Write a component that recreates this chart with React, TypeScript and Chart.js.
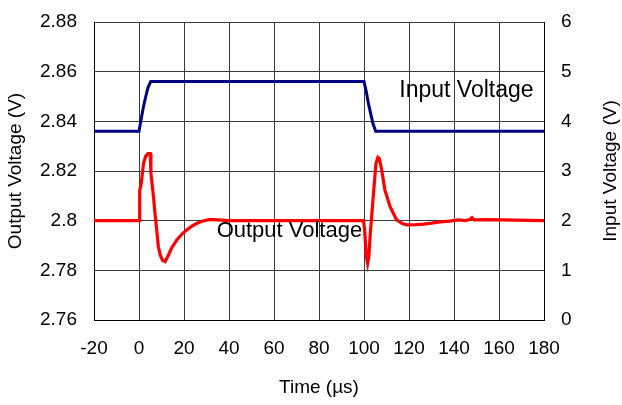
import React, { useEffect, useRef } from "react";
import { Chart, registerables } from "chart.js";

Chart.register(...registerables);

const xTicks = [-20, 0, 20, 40, 60, 80, 100, 120, 140, 160, 180];
const yLeftTicks = [2.76, 2.78, 2.8, 2.82, 2.84, 2.86, 2.88];
const yRightTicks = [0, 1, 2, 3, 4, 5, 6];

const inputTime = [-20, 0, 1, 2, 3, 4, 5.2, 100, 101, 102, 103, 104, 105.2, 180];
const inputVolt = [3.8, 3.8, 4.05, 4.3, 4.5, 4.68, 4.8, 4.8, 4.6, 4.35, 4.15, 3.95, 3.8, 3.8];

const outputTime = [
  -20, 0, 0.3, 1, 2, 3, 4, 5, 5.3, 6.4, 7.1, 7.9, 8.6, 9.5, 10.5, 11.6, 13, 14.5, 16.8, 19, 21.2,
  23.5, 25.6, 28, 31.6, 40, 60, 80, 99.8, 100.3, 101, 101.6, 102.2, 102.8, 103.4, 104.1, 105.3,
  106.2, 106.8, 107.8, 109.3, 111.6, 114.5, 117, 119, 123, 126.4, 130, 133.8, 138, 142, 145, 147,
  148, 149, 155, 180,
];
const outputVolt = [
  2.8, 2.8, 2.812, 2.815, 2.823, 2.826, 2.827, 2.827, 2.819, 2.81, 2.803, 2.796, 2.7895, 2.786,
  2.784, 2.7835, 2.786, 2.789, 2.7922, 2.7945, 2.7962, 2.7978, 2.7989, 2.7998, 2.8005, 2.8, 2.8,
  2.8, 2.8, 2.796, 2.786, 2.7828, 2.786, 2.795, 2.8016, 2.8097, 2.823, 2.8255, 2.825, 2.8208,
  2.8123, 2.8056, 2.8003, 2.7988, 2.7983, 2.7984, 2.7986, 2.799, 2.7995, 2.7998, 2.8003, 2.8,
  2.8005, 2.8012, 2.8003, 2.8004, 2.8,
];

const inputLabel = { text: "Input Voltage", x: 115.7, y: 4.5 };
const outputLabel = { text: "Output Voltage", x: 34.5, y: 2.7935 };
const rightTitle = "Input Voltage (V)";

const FONT = "'Liberation Sans', Arial, sans-serif";

const labelPlugin = {
  id: "seriesLabels",
  afterDatasetsDraw(chart: any) {
    const ctx = chart.ctx;
    const xs = chart.scales.x;
    const yr = chart.scales.yRight;
    ctx.save();
    ctx.fillStyle = "#000";
    ctx.font = `23px ${FONT}`;
    ctx.textAlign = "left";
    ctx.textBaseline = "alphabetic";
    ctx.fillText(inputLabel.text, xs.getPixelForValue(inputLabel.x), yr.getPixelForValue(inputLabel.y));
    ctx.font = `22px ${FONT}`;
    ctx.fillText(
      outputLabel.text,
      xs.getPixelForValue(outputLabel.x),
      chart.scales.yLeft.getPixelForValue(outputLabel.y)
    );
    // right axis title, reading bottom-to-top like the left one
    ctx.font = `19px ${FONT}`;
    ctx.textAlign = "center";
    ctx.textBaseline = "middle";
    ctx.translate(yr.right - 11, (yr.top + yr.bottom) / 2);
    ctx.rotate(-Math.PI / 2);
    ctx.fillText(rightTitle, 0, 0);
    ctx.restore();
  },
};

export default function App() {
  const ref = useRef<HTMLCanvasElement>(null);
  useEffect(() => {
    if (!ref.current) return;
    const gridColor = "#3a3a3a";
    const tickFont = { family: FONT, size: 19 };
    const fitY = (w: number) => (s: any) => {
      s.width = w;
      s.paddingTop = 0;
      s.paddingBottom = 0;
    };
    const chart = new Chart(ref.current, {
      type: "line",
      data: {
        datasets: [
          {
            label: "Input Voltage",
            data: inputTime.map((t, i) => ({ x: t, y: inputVolt[i] })),
            yAxisID: "yRight",
            borderColor: "#000080",
            borderWidth: 3,
            pointRadius: 0,
            tension: 0,
          },
          {
            label: "Output Voltage",
            data: outputTime.map((t, i) => ({ x: t, y: outputVolt[i] })),
            yAxisID: "yLeft",
            borderColor: "#ff0000",
            borderWidth: 3.2,
            pointRadius: 0,
            tension: 0,
          },
        ],
      },
      options: {
        responsive: false,
        animation: false,
        layout: { padding: { top: 22, left: 0, right: 0, bottom: 0 } },
        plugins: { legend: { display: false }, tooltip: { enabled: false } },
        scales: {
          x: {
            type: "linear",
            min: -20,
            max: 180,
            afterBuildTicks: (s: any) => {
              s.ticks = xTicks.map((v) => ({ value: v }));
            },
            afterFit: (s: any) => {
              s.height = 85;
              s.paddingLeft = 0;
              s.paddingRight = 0;
            },
            ticks: { font: tickFont, color: "#000", padding: 17, maxRotation: 0 },
            grid: { color: gridColor, lineWidth: 1, drawTicks: false },
            border: { color: "#000", width: 1 },
            title: {
              display: true,
              text: "Time (µs)",
              font: { family: FONT, size: 19 },
              color: "#000",
              padding: { top: 4, bottom: 6 },
            },
          },
          yLeft: {
            type: "linear",
            position: "left",
            min: 2.76,
            max: 2.88,
            afterBuildTicks: (s: any) => {
              s.ticks = yLeftTicks.map((v) => ({ value: v }));
            },
            afterFit: fitY(94),
            ticks: {
              font: tickFont,
              color: "#000",
              padding: 17,
              callback: (v: any) => String(Number(Number(v).toFixed(2))),
            },
            grid: { color: gridColor, lineWidth: 1, drawTicks: false },
            border: { color: "#000", width: 1 },
            title: {
              display: true,
              text: "Output Voltage (V)",
              font: { family: FONT, size: 19 },
              color: "#000",
              padding: { top: 4, bottom: 4 },
            },
          },
          yRight: {
            type: "linear",
            position: "right",
            min: 0,
            max: 6,
            afterBuildTicks: (s: any) => {
              s.ticks = yRightTicks.map((v) => ({ value: v }));
            },
            afterFit: fitY(78),
            ticks: { font: tickFont, color: "#000", padding: 17 },
            grid: { drawOnChartArea: false, drawTicks: false },
            border: { color: "#000", width: 1 },
            title: { display: false },
          },
        },
      },
      plugins: [labelPlugin],
    });
    return () => chart.destroy();
  }, []);
  return (
    <div style={{ position: "fixed", left: 0, top: 0, width: 622, height: 405, background: "#fff" }}>
      <canvas ref={ref} width={622} height={405} />
    </div>
  );
}
